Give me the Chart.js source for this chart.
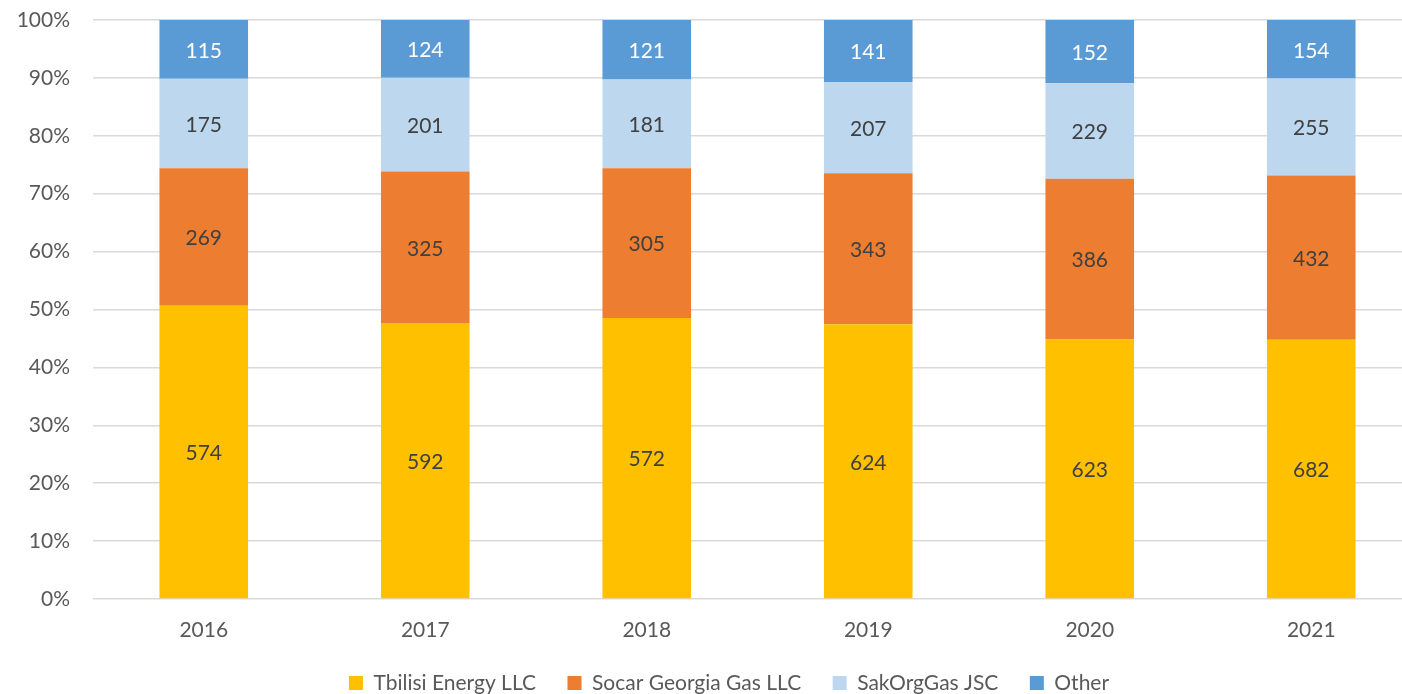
<!DOCTYPE html>
<html>
<head>
<meta charset="utf-8">
<script src="https://cdn.jsdelivr.net/npm/chart.js@4.4.1/dist/chart.umd.min.js"></script>
<style>
  html, body { margin: 0; padding: 0; overflow: hidden; background: #ffffff; }
  #wrap { position: absolute; left: 0; top: 0; width: 1422px; height: 694px; }
</style>
</head>
<body>
<div id="wrap"><canvas id="c"></canvas></div>
<script>
const years = ['2016', '2017', '2018', '2019', '2020', '2021'];
const tbilisiEnergy = [574, 592, 572, 624, 623, 682];
const socarGeorgiaGas = [269, 325, 305, 343, 386, 432];
const sakOrgGas = [175, 201, 181, 207, 229, 255];
const other = [115, 124, 121, 141, 152, 154];
const seriesNames = ['Tbilisi Energy LLC', 'Socar Georgia Gas LLC', 'SakOrgGas JSC', 'Other'];
const seriesColors = ['#FFC000', '#ED7D31', '#BDD7EE', '#5B9BD5'];
const labelColors = ['#404040', '#404040', '#404040', '#FFFFFF'];
const yTicks = [0, 10, 20, 30, 40, 50, 60, 70, 80, 90, 100];

const FONT = 'Lato, "Open Sans", sans-serif';
const raw = [tbilisiEnergy, socarGeorgiaGas, sakOrgGas, other];
const totals = years.map((_, i) => raw.reduce((s, arr) => s + arr[i], 0));

const datasets = raw.map((arr, k) => ({
  label: seriesNames[k],
  data: arr.map((v, i) => v / totals[i] * 100),
  rawValues: arr,
  backgroundColor: seriesColors[k],
  borderWidth: 0,
  categoryPercentage: 0.4,
  barPercentage: 1.0
}));

const valueLabels = {
  id: 'valueLabels',
  afterDatasetsDraw(chart) {
    const ctx = chart.ctx;
    ctx.save();
    ctx.font = '21px ' + FONT;
    ctx.textAlign = 'center';
    ctx.textBaseline = 'middle';
    chart.data.datasets.forEach((ds, k) => {
      const meta = chart.getDatasetMeta(k);
      meta.data.forEach((el, i) => {
        const p = el.getProps(['x', 'y', 'base'], true);
        ctx.fillStyle = labelColors[k];
        ctx.fillText(String(ds.rawValues[i]), p.x, (p.y + p.base) / 2 + 1.5);
      });
    });
    ctx.restore();
  }
};

const layoutTweak = {
  id: 'layoutTweak',
  afterLayout(chart) {
    const lg = chart.legend;
    if (lg) {
      const dx = 18, dy = 9.5;
      lg.left += dx; lg.right += dx;
      lg.top += dy; lg.bottom += dy;
    }
    // let x tick labels extend below the axis box without being clipped
    if (chart.scales.x) chart.scales.x.bottom += 20;
  }
};

new Chart(document.getElementById('c'), {
  type: 'bar',
  data: { labels: years, datasets },
  options: {
    responsive: true,
    maintainAspectRatio: false,
    animation: false,
    layout: { padding: { top: 20, left: 0, right: 0, bottom: 0 } },
    plugins: {
      legend: {
        position: 'bottom',
        labels: {
          font: { family: FONT, size: 21 },
          color: '#595959',
          boxWidth: 14,
          boxHeight: 14,
          padding: 31.5
        }
      },
      tooltip: { enabled: false },
      title: { display: false }
    },
    scales: {
      x: {
        stacked: true,
        grid: { display: false, drawTicks: false },
        border: { display: false },
        ticks: {
          font: { family: FONT, size: 21 },
          color: '#595959',
          padding: 19,
          maxRotation: 0
        },
        afterFit(s) { s.height = 32.5; }
      },
      y: {
        stacked: true,
        min: 0,
        max: 100,
        afterBuildTicks(s) { s.ticks = yTicks.map(v => ({ value: v })); },
        grid: { color: '#D9D9D9', lineWidth: 1.5, drawTicks: false },
        border: { display: false },
        ticks: {
          font: { family: FONT, size: 21 },
          color: '#595959',
          padding: 23,
          callback: v => v + '%'
        },
        afterFit(s) { s.width = 93; s.paddingTop = 0; s.paddingBottom = 0; }
      }
    }
  },
  plugins: [valueLabels, layoutTweak]
});
</script>
</body>
</html>
